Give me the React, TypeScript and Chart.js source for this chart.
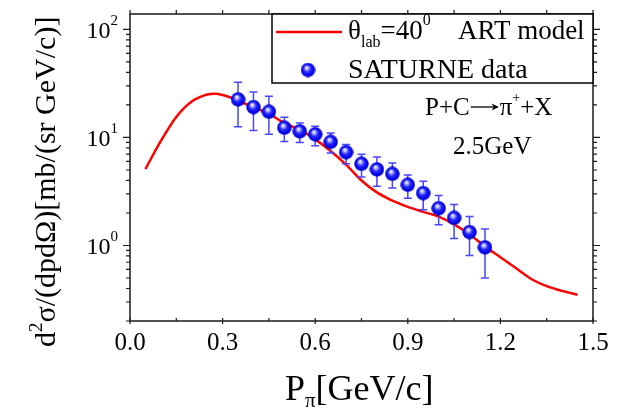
import React, { useEffect, useRef } from "react";
import { Chart, registerables } from "chart.js";

Chart.register(...registerables);

// ART model curve (theta_lab = 40 deg)
const curveX = [0.05, 0.1, 0.15, 0.2, 0.25, 0.275, 0.3, 0.35, 0.4, 0.45, 0.5, 0.55, 0.6, 0.65, 0.7, 0.75, 0.8, 0.85, 0.9, 0.95, 1.0, 1.05, 1.1, 1.15, 1.2, 1.25, 1.3, 1.35, 1.4, 1.45];
const curveY = [5.1, 9.3, 15.5, 21.5, 25.0, 25.4, 24.7, 22.0, 19.0, 16.6, 13.6, 11.8, 9.6, 7.5, 5.6, 4.0, 3.1, 2.6, 2.28, 2.05, 1.85, 1.57, 1.27, 0.98, 0.78, 0.62, 0.49, 0.42, 0.38, 0.35];

// SATURNE data
const dataX = [0.35, 0.4, 0.45, 0.5, 0.55, 0.6, 0.65, 0.7, 0.75, 0.8, 0.85, 0.9, 0.95, 1.0, 1.05, 1.1, 1.15];
const dataY = [22.5, 19.1, 17.3, 12.3, 11.4, 10.7, 9.1, 7.3, 5.7, 5.06, 4.6, 3.65, 3.05, 2.21, 1.8, 1.33, 0.96];
const dataHi = [32.5, 26.3, 24.1, 15.4, 13.6, 12.7, 11.0, 8.6, 7.0, 6.6, 5.8, 4.5, 3.94, 2.9, 2.4, 1.86, 1.42];
const dataLo = [12.6, 11.6, 10.7, 9.2, 9.0, 8.4, 7.2, 5.7, 4.3, 3.54, 3.4, 2.74, 2.14, 1.56, 1.16, 0.81, 0.5];

const xTicks = [0.0, 0.3, 0.6, 0.9, 1.2, 1.5];
const yMajor = [1, 10, 100];
const yMajorExp = ["0", "1", "2"];

const FONT = "'Liberation Serif', 'Times New Roman', serif";

type Run = [string, number, number];

function drawRuns(ctx: CanvasRenderingContext2D, x: number, y: number, runs: Run[]) {
  let cx = x;
  for (const [t, size, dy] of runs) {
    ctx.font = `${size}px ${FONT}`;
    ctx.fillText(t, cx, y + dy);
    cx += ctx.measureText(t).width;
  }
  return cx;
}

function makeSphere(d: number) {
  const c = document.createElement("canvas");
  c.width = d;
  c.height = d;
  const g = c.getContext("2d")!;
  const r = d / 2;
  const grad = g.createRadialGradient(r - 1.5, r - 2.5, 0.3, r, r, r);
  grad.addColorStop(0, "#ffffff");
  grad.addColorStop(0.18, "#b8b8ff");
  grad.addColorStop(0.45, "#2a2aff");
  grad.addColorStop(0.8, "#0000e8");
  grad.addColorStop(1, "#0000a8");
  g.fillStyle = grad;
  g.beginPath();
  g.arc(r, r, r - 0.3, 0, Math.PI * 2);
  g.fill();
  return c;
}

export default function App() {
  const ref = useRef<HTMLCanvasElement>(null);

  useEffect(() => {
    const canvas = ref.current!;
    const sphere = makeSphere(15);

    const custom = {
      id: "custom",
      beforeDatasetDraw(chart: any, args: any) {
        if (args.index !== 0) return;
        const ctx = chart.ctx as CanvasRenderingContext2D;
        const xs = chart.scales.x;
        const ys = chart.scales.y;
        ctx.save();
        ctx.strokeStyle = "#4646ff";
        ctx.lineWidth = 1.5;
        for (let i = 0; i < dataX.length; i++) {
          const px = xs.getPixelForValue(dataX[i]);
          const top = ys.getPixelForValue(dataHi[i]);
          const bot = ys.getPixelForValue(dataLo[i]);
          ctx.beginPath();
          ctx.moveTo(px, top);
          ctx.lineTo(px, bot);
          ctx.moveTo(px - 4, top);
          ctx.lineTo(px + 4, top);
          ctx.moveTo(px - 4, bot);
          ctx.lineTo(px + 4, bot);
          ctx.stroke();
        }
        ctx.restore();
      },
      afterDraw(chart: any) {
        const ctx = chart.ctx as CanvasRenderingContext2D;
        const ca = chart.chartArea;
        const xs = chart.scales.x;
        const ys = chart.scales.y;
        ctx.save();
        ctx.strokeStyle = "#1a1a1a";
        ctx.fillStyle = "#000";
        ctx.lineWidth = 1.5;
        // frame
        ctx.strokeRect(ca.left, ca.top, ca.right - ca.left, ca.bottom - ca.top);

        // x ticks
        ctx.lineWidth = 1.2;
        ctx.beginPath();
        for (let v = 0; v <= 1.5001; v += 0.15) {
          const px = xs.getPixelForValue(v);
          const major = Math.abs(v / 0.3 - Math.round(v / 0.3)) < 1e-6;
          if (major) {
            ctx.moveTo(px, ca.bottom - 3);
            ctx.lineTo(px, ca.bottom + 3);
          } else {
            ctx.moveTo(px, ca.bottom - 3);
            ctx.lineTo(px, ca.bottom);
          }
          ctx.moveTo(px, ca.top);
          ctx.lineTo(px, ca.top - 4);
        }
        // y ticks
        for (let e = -1; e <= 2; e++) {
          for (let m = 1; m <= 9; m++) {
            const v = m * Math.pow(10, e);
            if (v < 0.2 - 1e-9 || v > 139) continue;
            const py = ys.getPixelForValue(v);
            const len = m === 1 ? 7 : 4;
            ctx.moveTo(ca.left, py);
            ctx.lineTo(ca.left - len, py);
            ctx.moveTo(ca.right, py);
            ctx.lineTo(ca.right + len, py);
          }
        }
        ctx.stroke();

        // x tick labels
        ctx.textAlign = "center";
        ctx.textBaseline = "alphabetic";
        ctx.font = `25px ${FONT}`;
        for (const v of xTicks) {
          ctx.fillText(v.toFixed(1), xs.getPixelForValue(v), ca.bottom + 29);
        }
        // y tick labels
        ctx.textAlign = "left";
        for (let i = 0; i < yMajor.length; i++) {
          const py = ys.getPixelForValue(yMajor[i]);
          ctx.font = `24px ${FONT}`;
          const w = ctx.measureText("10").width;
          ctx.font = `15px ${FONT}`;
          const w2 = ctx.measureText(yMajorExp[i]).width;
          const x0 = 118 - w - w2;
          drawRuns(ctx, x0, py + 9, [["10", 24, 0], [yMajorExp[i], 15, -13]]);
        }

        // y title
        ctx.save();
        ctx.translate(55, 347);
        ctx.rotate(-Math.PI / 2);
        drawRuns(ctx, 0, 0, [["d", 30, 0], ["2", 19, -13], ["σ/(dpdΩ)[mb/(sr GeV/c)]", 30, 0]]);
        ctx.restore();

        // x title
        drawRuns(ctx, 285, 400, [["P", 36, 0], ["π", 21, 7], ["[GeV/c]", 36, 0]]);

        // legend
        ctx.fillStyle = "#fff";
        ctx.fillRect(272, ca.top, ca.right - 272, 83 - ca.top);
        ctx.strokeStyle = "#000";
        ctx.lineWidth = 1.5;
        ctx.strokeRect(272, ca.top, ca.right - 272, 83 - ca.top);
        ctx.strokeStyle = "#ff0000";
        ctx.lineWidth = 2.5;
        ctx.beginPath();
        ctx.moveTo(276, 32);
        ctx.lineTo(342, 32);
        ctx.stroke();
        ctx.fillStyle = "#000";
        drawRuns(ctx, 348, 39, [["θ", 27, 0], ["lab", 16, 8], ["=40", 27, 0], ["0", 16, -14]]);
        drawRuns(ctx, 458, 39, [["ART model", 27, 0]]);
        ctx.drawImage(sphere, 308 - 7.5, 70 - 7.5);
        drawRuns(ctx, 348, 78, [["SATURNE data", 28, 0]]);

        // annotation
        let ax = drawRuns(ctx, 425, 115, [["P+C", 25, 0]]);
        // long arrow
        ctx.strokeStyle = "#000";
        ctx.lineWidth = 1.3;
        ctx.beginPath();
        ctx.moveTo(ax + 1, 107);
        ctx.lineTo(ax + 28, 107);
        ctx.stroke();
        ctx.beginPath();
        ctx.moveTo(ax + 29, 107);
        ctx.lineTo(ax + 22, 103.5);
        ctx.lineTo(ax + 24, 107);
        ctx.lineTo(ax + 22, 110.5);
        ctx.closePath();
        ctx.fill();
        drawRuns(ctx, ax + 30, 115, [["π", 25, 0], ["+", 14, -13], ["+X", 25, 0]]);
        drawRuns(ctx, 453, 154, [["2.5GeV", 25, 0]]);
        ctx.restore();
      },
    };

    const chart = new Chart(canvas, {
      type: "scatter",
      data: {
        datasets: [
          {
            label: "SATURNE data",
            data: dataX.map((x, i) => ({ x, y: dataY[i] })),
            pointStyle: sphere as any,
            pointRadius: 7.5,
            showLine: false,
          },
          {
            label: "ART model",
            type: "line",
            data: curveX.map((x, i) => ({ x, y: curveY[i] })),
            borderColor: "#ff0000",
            borderWidth: 2.5,
            pointRadius: 0,
            tension: 0.4,
            cubicInterpolationMode: "monotone",
            showLine: true,
            fill: false,
          } as any,
        ],
      },
      options: {
        animation: false,
        responsive: false,
        maintainAspectRatio: false,
        layout: { padding: { top: 14, right: 28, left: 0, bottom: 0 } },
        plugins: { legend: { display: false }, tooltip: { enabled: false } },
        scales: {
          x: {
            type: "linear",
            min: 0,
            max: 1.5,
            ticks: { display: false, stepSize: 0.3 },
            grid: { display: false },
            border: { display: false },
            afterFit: (s: any) => {
              s.height = 88;
            },
          },
          y: {
            type: "logarithmic",
            min: 0.2,
            max: 139,
            ticks: { display: false },
            grid: { display: false },
            border: { display: false },
            afterFit: (s: any) => {
              s.width = 130;
            },
          },
        },
      } as any,
      plugins: [custom as any],
    });
    return () => chart.destroy();
  }, []);

  return (
    <div style={{ position: "absolute", left: 0, top: 0, width: 621, height: 409, background: "#fff" }}>
      <canvas ref={ref} width={621} height={409} style={{ width: 621, height: 409 }} />
    </div>
  );
}
